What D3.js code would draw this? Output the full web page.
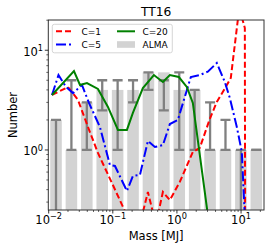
<!DOCTYPE html>
<html><head><meta charset="utf-8">
<script src="https://cdn.jsdelivr.net/npm/d3@7"></script>
<style>html,body{margin:0;padding:0;background:#fff;} svg{display:block;font-family:"DejaVu Sans",sans-serif;}</style>
</head><body><svg id="c" width="274" height="251"></svg>
<script>
// ---- data ----
const title = "TT16";
const xLabel = "Mass [MJ]";
const yLabel = "Number";
const xDomain = [0.00986, 22.8];
const yDomain = [0.25, 20.1];
const binCount = 14;
const almaCounts = [2, 1, 3, 4, 4, 4, 6, 6, 4, 4, 1, 1, 1, 1];
const errLow  = [0, 1, 1, 2.5, 1, 3, 4, 2.5, 1, 1, 1, 1, 0, 1];
const errHigh = [2, 5, 3, 5, 5, 5, 6, 5, 6, 4, 3, 2, 1, 1];

const c1Mass  = [0.01126, 0.0200, 0.02866, 0.0410, 0.05862, 0.09683, 0.1719, 0.2648, 0.3524, 0.4694, 0.6040, 0.7762, 1.109, 1.770, 2.276, 3.258, 4.188, 5.78, 6.92, 9.38, 11.46, 11.88];
const c1Value = [3.56, 4.28, 3.17, 1.70, 0.933, 0.467, 0.21, 0.18, 0.379, 0.18, 0.379, 0.315, 0.478, 0.955, 1.05, 2.05, 3.03, 4.28, 5.27, 26.5, 16.7, 0];

const c5Mass  = [0.01126, 0.01422, 0.01862, 0.02395, 0.03305, 0.04246, 0.06295, 0.09016, 0.1080, 0.1660, 0.2056, 0.2648, 0.3524, 0.4529, 0.6040, 0.7762, 1.033, 1.647, 2.276, 3.03, 4.188, 5.585, 6.683, 8.590, 10.28, 12.72];
const c5Value = [3.56, 5.64, 4.28, 3.72, 4.48, 2.96, 1.70, 0.707, 0.691, 0.388, 0.549, 0.562, 1.23, 1.07, 1.12, 1.82, 2.00, 5.39, 5.64, 6.1, 7.44, 4.80, 3.32, 1.70, 0.955, 0.05];

const c20Mass  = [0.01126, 0.02477, 0.03076, 0.03952, 0.05862, 0.08398, 0.1203, 0.1660, 0.2056, 0.2944, 0.4369, 0.6040, 0.7762, 1.071, 1.426, 1.770, 3.14];
const c20Value = [3.56, 6.19, 4.48, 4.69, 4.09, 2.70, 1.59, 1.59, 2.35, 4.18, 5.64, 4.80, 5.64, 5.39, 4.28, 2.96, 0.19];

const xTickExps = [-2, -1, 0, 1];
const yTickExps = [0, 1];
const legendLabels = ["C=1", "C=5", "C=20", "ALMA"];

// ---- layout ----
const W = 274, H = 251;
const L = 48.3, R = 264, T = 20, B = 210;
const svg = d3.select("#c");
const x = d3.scaleLog().domain(xDomain).range([L, R]);
const y = d3.scaleLog().domain(yDomain).range([B, T]);
const yv = v => y(Math.max(v, 1e-6));

svg.append("defs").append("clipPath").attr("id", "clip")
  .append("rect").attr("x", L).attr("y", T).attr("width", R - L).attr("height", B - T);

const plot = svg.append("g").attr("clip-path", "url(#clip)");

// bins (log-even between axis limits)
const lg0 = Math.log10(xDomain[0]), lg1 = Math.log10(xDomain[1]);
const step = (lg1 - lg0) / binCount;
const bins = d3.range(binCount).map(i => ({
  lo: Math.pow(10, lg0 + (i + 0.125) * step),
  hi: Math.pow(10, lg0 + (i + 0.875) * step),
  c: Math.pow(10, lg0 + (i + 0.5) * step),
  n: almaCounts[i], el: errLow[i], eh: errHigh[i]
}));

plot.selectAll("rect.bar").data(bins).enter().append("rect")
  .attr("x", d => x(d.lo)).attr("width", d => x(d.hi) - x(d.lo))
  .attr("y", d => y(d.n)).attr("height", d => B - y(d.n))
  .attr("fill", "#d3d3d3");

const eg = plot.append("g").attr("stroke", "#808080").attr("stroke-width", 2.3);
bins.forEach(d => {
  const cx = x(d.c);
  const y0 = d.el > 0 ? y(d.el) : B + 5, y1 = y(d.eh);
  eg.append("line").attr("x1", cx).attr("x2", cx).attr("y1", y0).attr("y2", y1);
  eg.append("line").attr("x1", cx - 5).attr("x2", cx + 5).attr("y1", y1).attr("y2", y1);
  if (d.el > 0) eg.append("line").attr("x1", cx - 5).attr("x2", cx + 5).attr("y1", y0).attr("y2", y0);
});

const line = d3.line().x(d => x(d[0])).y(d => yv(d[1]));
function drawCurve(ms, vs, color, dash) {
  plot.append("path").datum(ms.map((m, i) => [m, vs[i]]))
    .attr("d", line).attr("fill", "none").attr("stroke", color)
    .attr("stroke-width", 2).attr("stroke-dasharray", dash);
}
drawCurve(c1Mass, c1Value, "#ff0000", "6,3");
drawCurve(c5Mass, c5Value, "#0000ff", "10,3,2,3");
drawCurve(c20Mass, c20Value, "#008000", null);

// ---- axes frame ----
svg.append("rect").attr("x", L).attr("y", T).attr("width", R - L).attr("height", B - T)
  .attr("fill", "none").attr("stroke", "#333").attr("stroke-width", 1);

// x ticks
const ax = svg.append("g").attr("stroke", "#000");
xTickExps.forEach(e => {
  const px = x(Math.pow(10, e));
  ax.append("line").attr("x1", px).attr("x2", px).attr("y1", B).attr("y2", B + 3.5).attr("stroke-width", 0.8);
  const t = svg.append("text").attr("x", px).attr("y", 223.5).attr("text-anchor", "middle")
    .attr("font-size", 11.5).attr("fill", "#000");
  t.append("tspan").text("10");
  t.append("tspan").attr("dy", -4.5).attr("font-size", 8.2).text(String(e).replace("-", "\u2212"));
});
for (let e = -2; e <= 1; e++) for (let k = 2; k <= 9; k++) {
  const v = k * Math.pow(10, e);
  if (v < xDomain[0] || v > xDomain[1]) continue;
  const px = x(v);
  ax.append("line").attr("x1", px).attr("x2", px).attr("y1", B).attr("y2", B + 2).attr("stroke-width", 0.6);
}
// y ticks
yTickExps.forEach(e => {
  const py = y(Math.pow(10, e));
  ax.append("line").attr("x1", L - 3.5).attr("x2", L).attr("y1", py).attr("y2", py).attr("stroke-width", 0.8);
  const t = svg.append("text").attr("x", 43).attr("y", py + 5.5).attr("text-anchor", "end")
    .attr("font-size", 11.5).attr("fill", "#000");
  t.append("tspan").text("10");
  t.append("tspan").attr("dy", -4.5).attr("font-size", 8.2).text(String(e));
});
for (let e = -1; e <= 1; e++) for (let k = 2; k <= 9; k++) {
  const v = k * Math.pow(10, e);
  if (v < yDomain[0] || v > yDomain[1]) continue;
  const py = y(v);
  ax.append("line").attr("x1", L - 2).attr("x2", L).attr("y1", py).attr("y2", py).attr("stroke-width", 0.6);
}

// labels
svg.append("text").attr("x", (L + R) / 2).attr("y", 240).attr("text-anchor", "middle")
  .attr("font-size", 11.5).text(xLabel);
svg.append("text").attr("transform", `translate(17,${(T + B) / 2}) rotate(-90)`).attr("text-anchor", "middle")
  .attr("font-size", 11.5).text(yLabel);
svg.append("text").attr("x", (L + R) / 2).attr("y", 16).attr("text-anchor", "middle")
  .attr("font-size", 12.3).text(title);

// legend
const lg = svg.append("g");
lg.append("rect").attr("x", 52.3).attr("y", 24.3).attr("width", 120).attr("height", 28.5).attr("rx", 2)
  .attr("fill", "#fff").attr("fill-opacity", 0.8).attr("stroke", "#cccccc").attr("stroke-width", 0.8);
const legItems = [
  {col: 0, row: 0, color: "#ff0000", dash: "6,3", kind: "line"},
  {col: 0, row: 1, color: "#0000ff", dash: "10,3,2,3", kind: "line"},
  {col: 1, row: 0, color: "#008000", dash: null, kind: "line"},
  {col: 1, row: 1, color: "#d3d3d3", dash: null, kind: "patch"}
];
legItems.forEach((it, i) => {
  const hx = it.col === 0 ? 56 : 117;
  const cy = it.row === 0 ? 31.3 : 44.5;
  if (it.kind === "line") {
    lg.append("line").attr("x1", hx).attr("x2", hx + 18).attr("y1", cy).attr("y2", cy)
      .attr("stroke", it.color).attr("stroke-width", 2).attr("stroke-dasharray", it.dash);
  } else {
    lg.append("rect").attr("x", hx).attr("y", cy - 3.3).attr("width", 18).attr("height", 6.6).attr("fill", it.color);
  }
  lg.append("text").attr("x", hx + 25.5).attr("y", cy + 3.2).attr("font-size", 9).text(legendLabels[i]);
});
</script></body></html>
